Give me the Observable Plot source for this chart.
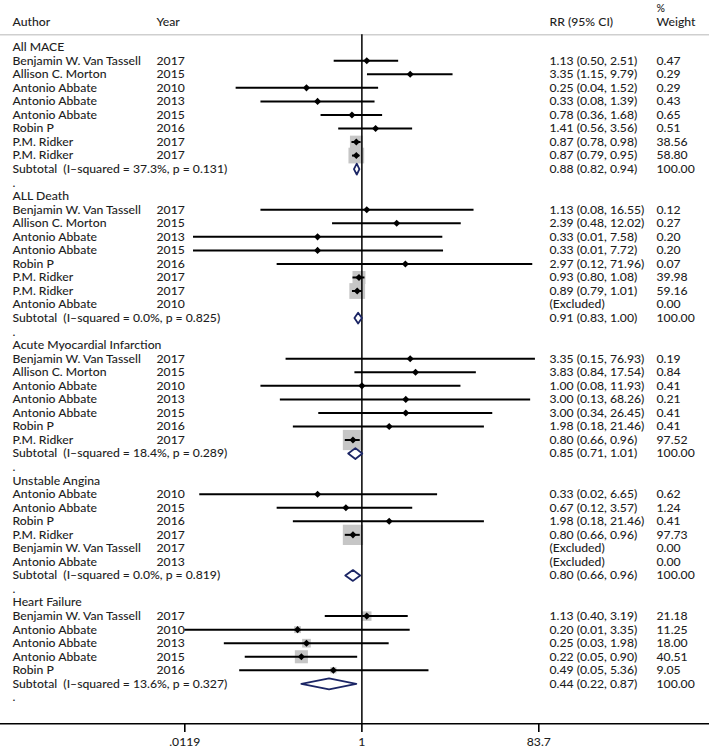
<!DOCTYPE html>
<html><head><meta charset="utf-8">
<script src="https://cdn.jsdelivr.net/npm/d3@7"></script>
<script src="https://cdn.jsdelivr.net/npm/@observablehq/plot@0.6"></script>
<style>
body{margin:0;background:#fff;}
svg text{white-space:pre;}
</style></head><body><div id="chart"></div>
<script>
// ---- data ----
const sections = ["All MACE", "ALL Death", "Acute Myocardial Infarction", "Unstable Angina", "Heart Failure"];
const studySection = [0,0,0,0,0,0,0,0, 1,1,1,1,1,1,1,1, 2,2,2,2,2,2,2, 3,3,3,3,3,3, 4,4,4,4,4];
const authors = [
  "Benjamin W. Van Tassell","Allison C. Morton","Antonio Abbate","Antonio Abbate","Antonio Abbate","Robin P","P.M. Ridker","P.M. Ridker",
  "Benjamin W. Van Tassell","Allison C. Morton","Antonio Abbate","Antonio Abbate","Robin P","P.M. Ridker","P.M. Ridker","Antonio Abbate",
  "Benjamin W. Van Tassell","Allison C. Morton","Antonio Abbate","Antonio Abbate","Antonio Abbate","Robin P","P.M. Ridker",
  "Antonio Abbate","Antonio Abbate","Robin P","P.M. Ridker","Benjamin W. Van Tassell","Antonio Abbate",
  "Benjamin W. Van Tassell","Antonio Abbate","Antonio Abbate","Antonio Abbate","Robin P"
];
const years = [
  2017,2015,2010,2013,2015,2016,2017,2017,
  2017,2015,2013,2015,2016,2017,2017,2010,
  2017,2015,2010,2013,2015,2016,2017,
  2010,2015,2016,2017,2017,2013,
  2017,2010,2013,2015,2016
];
const rr = [
  1.13,3.35,0.25,0.33,0.78,1.41,0.87,0.87,
  1.13,2.39,0.33,0.33,2.97,0.93,0.89,null,
  3.35,3.83,1.00,3.00,3.00,1.98,0.80,
  0.33,0.67,1.98,0.80,null,null,
  1.13,0.20,0.25,0.22,0.49
];
const lower = [
  0.50,1.15,0.043,0.08,0.36,0.56,0.78,0.79,
  0.08,0.48,0.0148,0.0148,0.12,0.80,0.79,null,
  0.15,0.84,0.08,0.13,0.34,0.18,0.66,
  0.0173,0.12,0.18,0.66,null,null,
  0.40,0.0119,0.032,0.054,0.047
];
const upper = [
  2.51,9.79,1.52,1.39,1.68,3.56,0.98,0.95,
  16.55,12.02,7.58,7.72,71.96,1.08,1.01,null,
  76.93,17.54,11.93,68.26,26.45,21.46,0.96,
  6.65,3.57,21.46,0.96,null,null,
  3.19,3.35,1.98,0.90,5.36
];
const weights = [
  0.47,0.29,0.29,0.43,0.65,0.51,38.56,58.80,
  0.12,0.27,0.20,0.20,0.07,39.98,59.16,0.00,
  0.19,0.84,0.41,0.21,0.41,0.41,97.52,
  0.62,1.24,0.41,97.73,0.00,0.00,
  21.18,11.25,18.00,40.51,9.05
];
const subI2 = [37.3, 0.0, 18.4, 0.0, 13.6];
const subP = [0.131, 0.825, 0.289, 0.819, 0.327];
const subRR = [0.88, 0.91, 0.85, 0.80, 0.44];
const subLower = [0.82, 0.83, 0.71, 0.66, 0.22];
const subUpper = [0.94, 1.00, 1.01, 0.96, 0.87];
const subWeight = [100, 100, 100, 100, 100];
const tickValues = [0.0119, 1, 83.7];
const tickLabels = [".0119", "1", "83.7"];
const headers = ["Author", "Year", "RR (95% CI)", "Weight"];

// ---- build table ----
const fmtCI = (e, l, u) => `${e.toFixed(2)} (${l.toFixed(2)}, ${u.toFixed(2)})`;
const rows = [], studies = [], subs = [];
let r = 0;
sections.forEach((s, si) => {
  rows.push({row: r++, c0: s});
  studySection.forEach((sec, i) => {
    if (sec !== si) return;
    const excluded = rr[i] == null;
    const d = {row: r++, c0: authors[i], c1: String(years[i]),
      c2: excluded ? "(Excluded)" : fmtCI(rr[i], lower[i], upper[i]),
      c3: weights[i].toFixed(2), est: rr[i], lo: lower[i], hi: upper[i], w: weights[i]};
    rows.push(d);
    if (!excluded) studies.push(d);
  });
  const sd = {row: r++, c0: `Subtotal  (I\u2013squared = ${subI2[si].toFixed(1)}%, p = ${subP[si].toFixed(3)})`,
    c2: fmtCI(subRR[si], subLower[si], subUpper[si]), c3: subWeight[si].toFixed(2),
    est: subRR[si], lo: subLower[si], hi: subUpper[si]};
  rows.push(sd); subs.push(sd);
  rows.push({row: r++, c0: "."});
});
const diamonds = subs.flatMap((d, k) => [
  {k, x: d.lo, y: d.row}, {k, x: d.est, y: d.row - 0.4}, {k, x: d.hi, y: d.row},
  {k, x: d.est, y: d.row + 0.4}, {k, x: d.lo, y: d.row}
]);
const tickData = tickValues.map((v, i) => ({v, label: tickLabels[i]}));

// ---- layout ----
const W = 709, H = 748;
const tickPx = [184.3, 538.3];           // pixel positions of the outer ticks
const kx = (tickPx[1] - tickPx[0]) / Math.log(tickValues[2] / tickValues[0]);
const xDomain = [Math.exp(Math.log(tickValues[0]) - tickPx[0] / kx), Math.exp(Math.log(tickValues[2]) + (W - tickPx[1]) / kx)];
const colX = [12, 156, 549, 656];
const axisRow = 49.95, sepRow = -0.92, headRow = -1.875, pctRow = -2.87;
const ink = "#1e1e1e";

const textCols = colX.map((dx, c) => Plot.text(rows, {
  y: "row", text: d => d["c" + c] ?? "", frameAnchor: "left", dx, textAnchor: "start", fill: ink
}));
const headCols = colX.map((dx, c) => Plot.text([headers[c]], {
  y: headRow, text: d => d, frameAnchor: "left", dx, textAnchor: "start", fill: ink
}));

const chart = Plot.plot({
  width: W, height: H,
  marginLeft: 0, marginRight: 0, marginTop: 0, marginBottom: 25,
  x: {type: "log", domain: xDomain, range: [0, W], label: null},
  y: {domain: [0, axisRow], range: [46.7, 723.3], axis: null, label: null},
  r: {type: "sqrt", domain: [0, 100], range: [0, 11.57]},
  style: {fontFamily: "Lato, 'Open Sans', sans-serif", fontSize: "12.2px", fontWeight: 500, background: "#fff", color: ink},
  marks: [
    Plot.ruleY([sepRow], {stroke: "#cfcfcf", strokeWidth: 1.5}),
    Plot.dot(studies, {x: "est", y: "row", r: "w", symbol: "square", fill: "#c6c6c6"}),
    Plot.ruleX([1], {y1: sepRow, y2: axisRow, stroke: "#000", strokeWidth: 1.5}),
    Plot.ruleY(studies, {y: "row", x1: "lo", x2: "hi", stroke: "#000", strokeWidth: 2}),
    Plot.dot(studies, {x: "est", y: "row", r: 3.2, symbol: "diamond2", fill: "#000"}),
    Plot.line(diamonds, {x: "x", y: "y", z: "k", stroke: "#1b2565", strokeWidth: 1.8}),
    ...textCols,
    ...headCols,
    Plot.text(["%"], {y: pctRow, text: d => d, frameAnchor: "left", dx: colX[3], textAnchor: "start", fill: ink, fontSize: 10.5}),
    Plot.ruleY([axisRow], {stroke: "#000", strokeWidth: 1.6}),
    Plot.axisX({ticks: tickValues, tickFormat: () => "", tickSize: 9, stroke: "#000", strokeWidth: 1.6}),
    Plot.text(tickData, {x: "v", y: axisRow, text: "label", dy: 18, fill: ink})
  ]
});
document.getElementById("chart").appendChild(chart);
</script></body></html>
